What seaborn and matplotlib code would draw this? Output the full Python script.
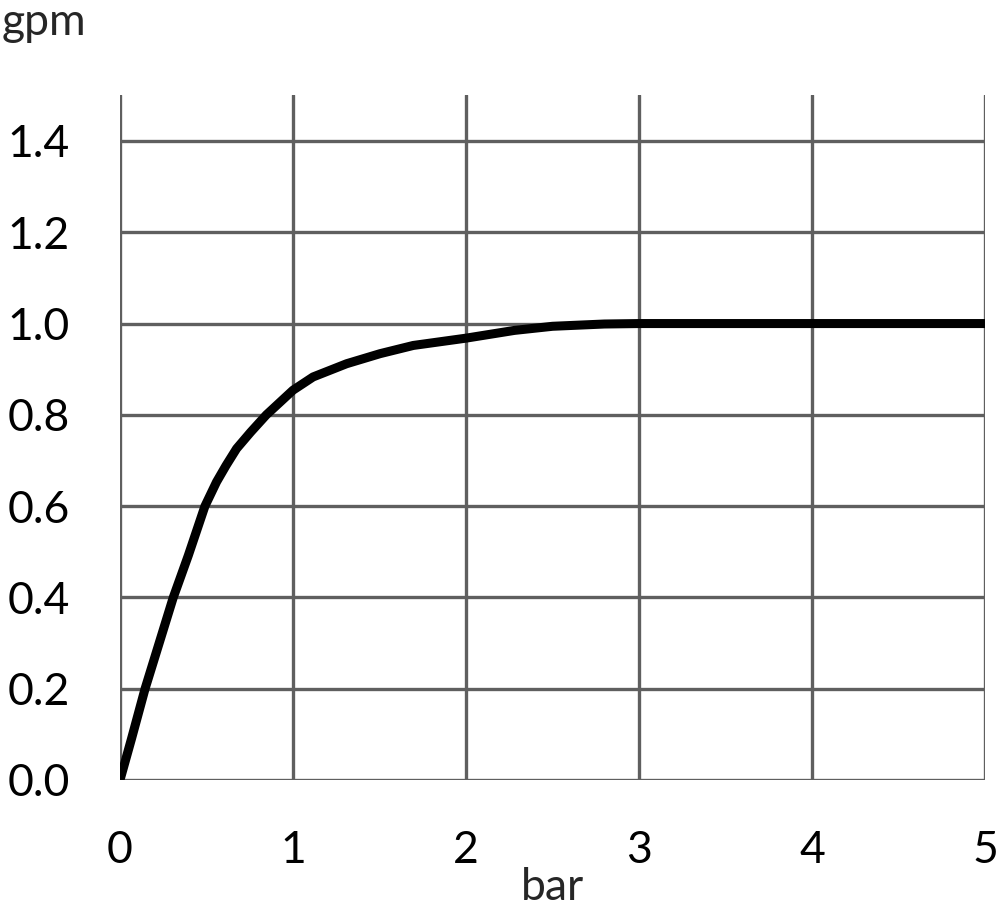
import numpy as np
import pandas as pd
import seaborn as sns
import matplotlib.pyplot as plt

# Flow vs pressure
pressure_bar = [0, 0.067, 0.145, 0.308, 0.395, 0.491, 0.558, 0.613, 0.674, 0.755, 0.846,
                1.0, 1.116, 1.31, 1.503, 1.695, 2.0, 2.28, 2.5, 2.8, 3.0, 4.0, 5.0]
flow_gpm = [0, 0.091, 0.2, 0.4, 0.492, 0.6, 0.653, 0.689, 0.726, 0.762, 0.8,
            0.854, 0.883, 0.912, 0.934, 0.952, 0.968, 0.985, 0.994, 0.999, 1.0, 1.0, 1.0]
x_ticks = [0, 1, 2, 3, 4, 5]
y_ticks = [0.0, 0.2, 0.4, 0.6, 0.8, 1.0, 1.2, 1.4]

df = pd.DataFrame({"bar": pressure_bar, "gpm": flow_gpm})

sns.set_style("white")
plt.rcParams['font.family'] = ['Lato', 'DejaVu Sans']

grid_col = "#5f5f5f"
fig = plt.figure(figsize=(10, 9.08), dpi=100)
ax = fig.add_axes([0.12, 0.141, 0.865, 0.754])

sns.lineplot(data=df, x="bar", y="gpm", ax=ax, color="black", linewidth=6.5,
             solid_capstyle="round", solid_joinstyle="round", zorder=3)

ax.set_xlim(0, 5)
ax.set_ylim(0, 1.5)
ax.set_xticks(x_ticks)
ax.set_yticks(y_ticks)
ax.set_xticklabels([str(t) for t in x_ticks])
ax.set_yticklabels([f"{t:.1f}" for t in y_ticks])
ax.grid(True, color=grid_col, linewidth=2.4)
for s in ax.spines.values():
    s.set_visible(False)
ax.tick_params(axis="both", direction="out", length=12, width=2.4, color=grid_col,
               labelsize=32, labelcolor="black", pad=24)

ax.set_xlabel("bar", fontsize=32, va="baseline")
ax.xaxis.set_label_coords(0.5, -0.175)
ax.set_ylabel("")
# unit label sits in the top-left corner
fig.text(0.002, 0.962, "gpm", fontsize=32, ha="left", va="baseline")

fig.savefig("out.png", dpi=100)
